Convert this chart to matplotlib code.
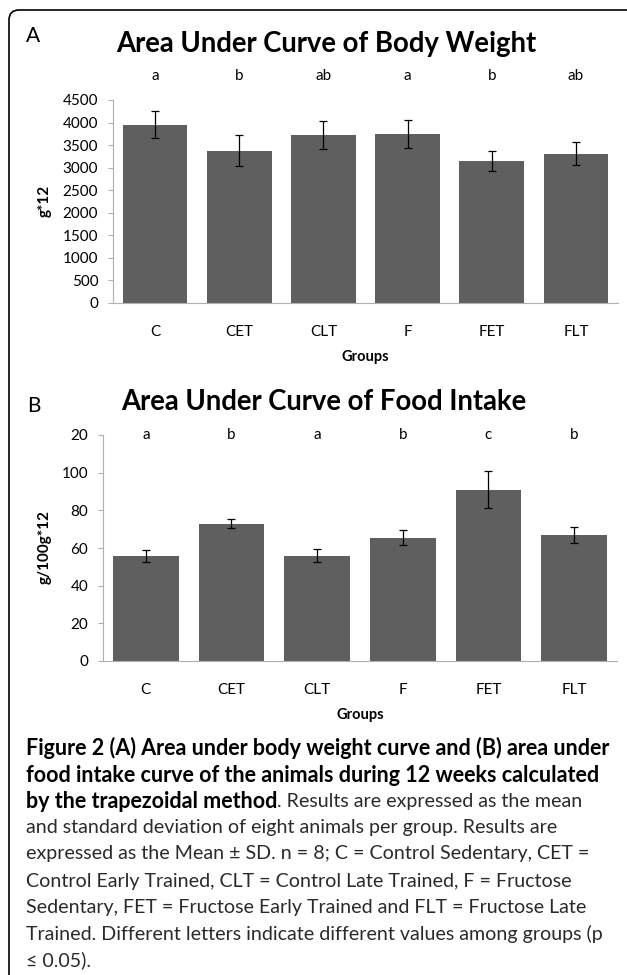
import matplotlib.pyplot as plt
from matplotlib.patches import FancyBboxPatch
import numpy as np

# data
groups = ['C', 'CET', 'CLT', 'F', 'FET', 'FLT']
weight_auc = [3950, 3380, 3720, 3740, 3150, 3310]
weight_sd = [300, 340, 310, 315, 215, 255]
weight_letters = ['a', 'b', 'ab', 'a', 'b', 'ab']
food_auc = [56, 73, 56, 65.5, 91, 67]
food_sd = [3.2, 2.6, 3.4, 4.0, 9.8, 4.1]
food_letters = ['a', 'b', 'a', 'b', 'c', 'b']
weight_ticks = [0, 500, 1000, 1500, 2000, 2500, 3000, 3500, 4000, 4500]
food_ticks = [0, 20, 40, 60, 80, 100, 120]
food_ticklabels = ['0', '20', '40', '60', '80', '100', '20']  # top label is "20" in the original

W, H = 627, 975
FONT = ['Lato', 'DejaVu Sans']
BAR = '#5f5f5f'
AXC = '#b0b0b0'

plt.rcParams['font.family'] = FONT

fig = plt.figure(figsize=(W / 100, H / 100), dpi=100)


def box(l, t, r, b):
    return [l / W, 1 - b / H, (r - l) / W, (b - t) / H]


def px(x, y):
    return x / W, 1 - y / H


def draw_panel(ax, vals, sds, letters, letter_y, ymax):
    x = np.arange(len(groups))
    ax.bar(x, vals, width=0.77, color=BAR, zorder=2)
    ax.errorbar(x, vals, yerr=sds, fmt='none', ecolor='black', elinewidth=0.9,
                capsize=2.6, capthick=0.9, zorder=3)
    for xi, lab in zip(x, letters):
        ax.text(xi, letter_y, lab, ha='center', va='center', fontsize=11, clip_on=False)
    ax.set_xlim(-0.5, len(groups) - 0.5)
    ax.set_ylim(0, ymax)
    ax.set_xticks(x)
    ax.set_xticklabels(groups, fontsize=11)
    ax.tick_params(axis='x', length=0, pad=16)
    ax.tick_params(axis='y', length=3.6, width=0.8, color=AXC, pad=7, labelsize=11)
    for s in ['top', 'right']:
        ax.spines[s].set_visible(False)
    for s in ['left', 'bottom']:
        ax.spines[s].set_color(AXC)
        ax.spines[s].set_linewidth(0.8)


# panel A
axA = fig.add_axes(box(113, 100, 618, 303))
draw_panel(axA, weight_auc, weight_sd, weight_letters, 5030, 4500)
axA.set_yticks(weight_ticks)
fig.text(*px(33, 36), 'A', fontsize=15, ha='center', va='center')
fig.text(*px(326, 44), 'Area Under Curve of Body Weight', fontsize=19.8, fontweight='bold',
         ha='center', va='center')
fig.text(*px(45, 201), 'g*12', fontsize=11, fontweight='bold', rotation=90,
         ha='center', va='center')
fig.text(*px(365, 357), 'Groups', fontsize=10.5, fontweight='bold', ha='center', va='center')

# panel B
axB = fig.add_axes(box(103, 435, 617, 661))
draw_panel(axB, food_auc, food_sd, food_letters, 120, 120)
axB.set_yticks(food_ticks)
axB.set_yticklabels(food_ticklabels)
fig.text(*px(34, 406), 'B', fontsize=15, ha='center', va='center')
fig.text(*px(324, 402), 'Area Under Curve of Food Intake', fontsize=19.8, fontweight='bold',
         ha='center', va='center')
fig.text(*px(45, 547), 'g/100g*12', fontsize=11, fontweight='bold', rotation=90,
         ha='center', va='center')
fig.text(*px(360, 715), 'Groups', fontsize=10.5, fontweight='bold', ha='center', va='center')

# caption
bold_size = 15.5
plain_size = 14.1
TXT = '#2a2a2a'
line_y = [748, 775, 802, 828, 854, 881, 908, 934, 960]
bold_lines = [
    'Figure 2 (A) Area under body weight curve and (B) area under',
    'food intake curve of the animals during 12 weeks calculated',
]
plain_lines = [
    'and standard deviation of eight animals per group. Results are',
    'expressed as the Mean \u00b1 SD. n = 8; C = Control Sedentary, CET =',
    'Control Early Trained, CLT = Control Late Trained, F = Fructose',
    'Sedentary, FET = Fructose Early Trained and FLT = Fructose Late',
    'Trained. Different letters indicate different values among groups (p',
    '\u2264 0.05).',
]
for s, y in zip(bold_lines, line_y[:2]):
    fig.text(*px(26, y), s, fontsize=bold_size, fontweight='bold', ha='left', va='center')
t3 = fig.text(*px(26, line_y[2]), 'by the trapezoidal method', fontsize=bold_size,
              fontweight='bold', ha='left', va='center')
fig.add_artist(plt.Annotation('. Results are expressed as the mean', xy=(1, 0.5), xycoords=t3,
                              fontsize=plain_size, ha='left', va='center', color=TXT))
for s, y in zip(plain_lines, line_y[3:]):
    fig.text(*px(26, y), s, fontsize=plain_size, ha='left', va='center', color=TXT)

# rounded frame around the figure
frame = FancyBboxPatch((0.09, -0.5), 6.5, 9.75 - 0.10 + 0.5,
                       boxstyle='round,pad=0,rounding_size=0.1',
                       transform=fig.dpi_scale_trans, fill=False, ec='black', lw=1.2)
fig.add_artist(frame)

fig.savefig('out.png', dpi=100)
